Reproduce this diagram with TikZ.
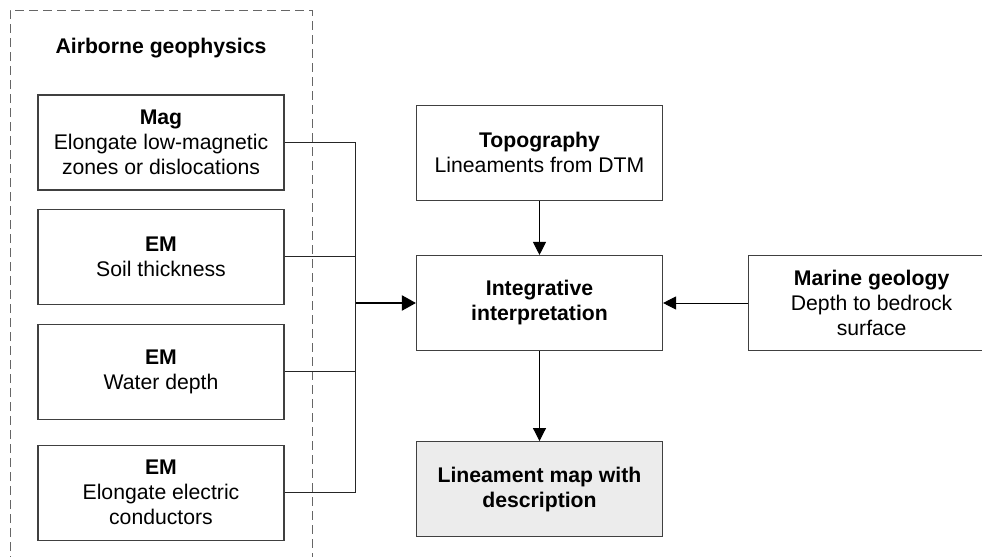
\documentclass[tikz,border=0pt]{standalone}
\usepackage{fontspec}
\setmainfont{Liberation Sans}
\usepackage{tikz}
\usetikzlibrary{arrows.meta,positioning,calc}
\tikzset{
    box/.style={draw=black!75, fill=white, line width=0.55pt, minimum width=123pt, minimum height=47.5pt, inner sep=0pt, align=center, font=\fontsize{10.6}{12.5}\selectfont},
    result/.style={box, fill=gray!15},
    link/.style={draw=black!85, line width=0.5pt},
    feed/.style={-{Triangle[length=6.5pt, width=6.5pt]}, line width=0.5pt, black},
    mainfeed/.style={-{Triangle[length=7pt, width=7.5pt]}, line width=1pt, black},
    group/.style={draw=black!60, dashed, dash pattern=on 4.5pt off 2.5pt, line width=0.5pt}
}

\begin{document}
\begin{tikzpicture}[x=0.5pt, y=-0.5pt]
            \useasboundingbox (0,0) rectangle (982,557);
            % Airborne geophysics group
            \draw[group] (10,565) |- (312,10) -- (312,565);
            \node[font=\fontsize{10.6}{12.5}\selectfont\bfseries] (grouptitle) at (161,48) {Airborne geophysics};
            
            \node[box] (mag) at (161,142.5) {\textbf{Mag}\\Elongate low-magnetic\\zones or dislocations};
            \node[box, below=9pt of mag] (soil) {\textbf{EM}\\Soil thickness};
            \node[box, below=9.5pt of soil] (water) {\textbf{EM}\\Water depth};
            \node[box, below=12.5pt of water] (cond) {\textbf{EM}\\Elongate electric\\conductors};
            
            % Interpretation
            \node[box] (integ) at (539.5,303) {\textbf{Integrative}\\\textbf{interpretation}};
            \node[box, above=27pt of integ] (topo) {\textbf{Topography}\\Lineaments from DTM};
            \node[box, right=42.5pt of integ] (marine) {\textbf{Marine geology}\\Depth to bedrock\\surface};
            \node[result, below=45pt of integ] (linmap) {\textbf{Lineament map with}\\\textbf{description}};
            
            \coordinate[left=30pt of integ.west] (jn);
            \draw[link] (mag.east) -| (jn);
            \draw[link] (soil.east) -| (jn);
            \draw[link] (water.east) -| (jn);
            \draw[link] (cond.east) -| (jn);
            \draw[mainfeed] (jn) -- (integ.west);
            
            \draw[feed] (topo) -- (integ);
            \draw[feed] (marine) -- (integ);
            \draw[feed] (integ) -- (linmap);
        \end{tikzpicture}
\end{document}
